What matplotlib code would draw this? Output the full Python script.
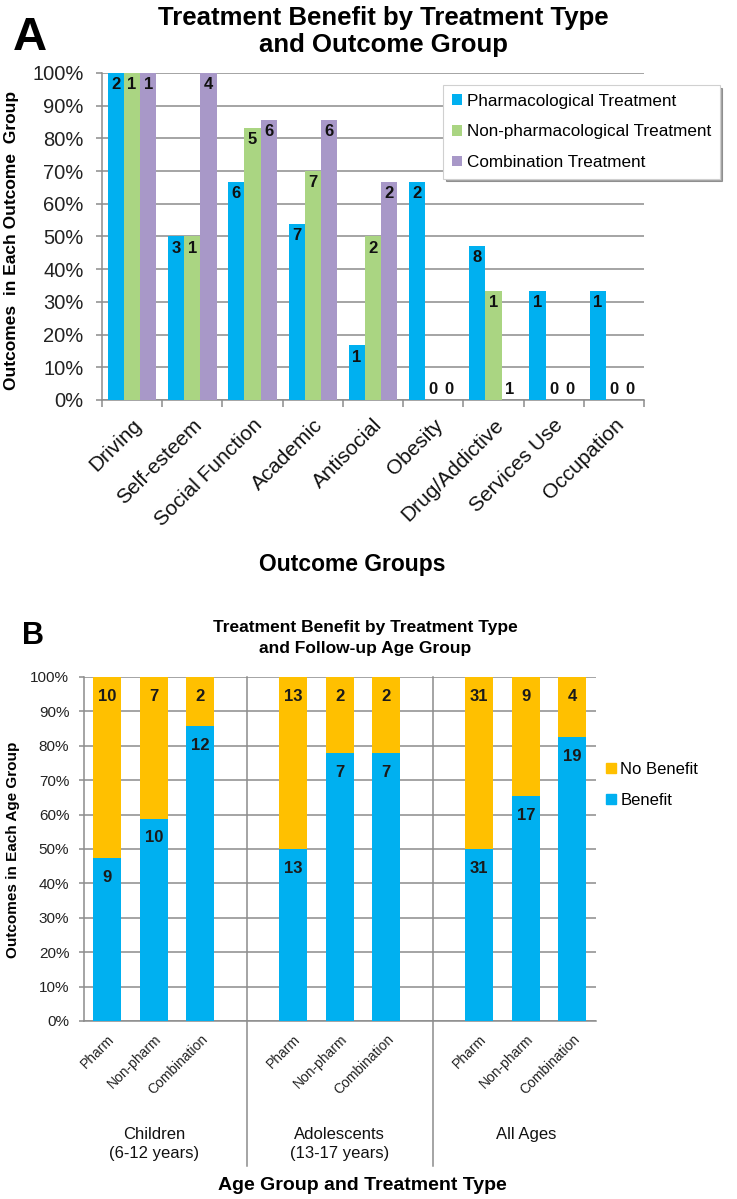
import matplotlib
matplotlib.use("Agg")
import matplotlib.pyplot as plt
import numpy as np
from matplotlib.patches import Patch
from matplotlib.lines import Line2D
import matplotlib.transforms as mtransforms

# ---------------- data ----------------
outcome_groups = ["Driving", "Self-esteem", "Social Function", "Academic", "Antisocial",
                  "Obesity", "Drug/Addictive", "Services Use", "Occupation"]
series_names = ["Pharmacological Treatment", "Non-pharmacological Treatment", "Combination Treatment"]
pharm_pct = [100, 50, 66.7, 53.8, 16.7, 66.7, 47.1, 33.3, 33.3]
nonpharm_pct = [100, 50, 83.3, 70, 50, 0, 33.3, 0, 0]
combo_pct = [100, 100, 85.7, 85.7, 66.7, 0, 0, 0, 0]
pharm_n = ["2", "3", "6", "7", "1", "2", "8", "1", "1"]
nonpharm_n = ["1", "1", "5", "7", "2", "0", "1", "0", "0"]
combo_n = ["1", "4", "6", "6", "2", "0", "1", "0", "0"]

age_groups = ["Children\n(6-12 years)", "Adolescents\n(13-17 years)", "All Ages"]
treat_types = ["Pharm", "Non-pharm", "Combination"]
benefit = [9, 10, 12, 13, 7, 7, 31, 17, 19]
no_benefit = [10, 7, 2, 13, 2, 2, 31, 9, 4]

pct_ticks = [0, 10, 20, 30, 40, 50, 60, 70, 80, 90, 100]
pct_labels = ["0%", "10%", "20%", "30%", "40%", "50%", "60%", "70%", "80%", "90%", "100%"]

# ---------------- style ----------------
W, H = 737, 1199
BLUE = "#00B0F0"
GREEN = "#AAD582"
PURPLE = "#A898C8"
ORANGE = "#FFC000"
GRID = "#8C8C8C"
SANS = ["Liberation Sans", "DejaVu Sans"]
plt.rcParams["font.family"] = SANS

fig = plt.figure(figsize=(W / 100, H / 100), dpi=100)
fig.patch.set_facecolor("white")


def fx(px):
    return px / W


def fy(py):
    return 1 - py / H


def axes_px(l, t, r, b):
    return fig.add_axes([fx(l), fy(b), fx(r) - fx(l), (b - t) / H])


# ================= Panel A =================
axA = axes_px(102, 73, 644, 400)
x = np.arange(len(outcome_groups))
bw = 0.268
colors = [BLUE, GREEN, PURPLE]
vals = [pharm_pct, nonpharm_pct, combo_pct]
labs = [pharm_n, nonpharm_n, combo_n]
for i in range(3):
    pos = x + (i - 1) * bw
    axA.bar(pos, vals[i], width=bw, color=colors[i], zorder=3, label=series_names[i])
    for xi, v, lab in zip(pos, vals[i], labs[i]):
        if v > 0:
            axA.annotate(lab, (xi, v), xytext=(0, -3), textcoords="offset points",
                         ha="center", va="top", fontsize=12, fontweight="bold",
                         color="#111111", zorder=4)
        else:
            axA.annotate(lab, (xi, 0), xytext=(0, 2), textcoords="offset points",
                         ha="center", va="bottom", fontsize=12, fontweight="bold",
                         color="#111111", zorder=4)

axA.set_xlim(-0.5, len(outcome_groups) - 0.5)
axA.set_ylim(0, 100)
axA.set_yticks(pct_ticks)
axA.set_yticklabels(pct_labels, fontsize=14.5, color="#222222")
axA.yaxis.grid(True, color=GRID, linewidth=1.1, zorder=0)
axA.set_axisbelow(True)
for s in ["top", "right"]:
    axA.spines[s].set_visible(False)
for s in ["left", "bottom"]:
    axA.spines[s].set_color(GRID)
    axA.spines[s].set_linewidth(1.1)
axA.tick_params(axis="y", length=4.3, color=GRID, width=1.1, pad=9)
axA.set_xticks(x)
axA.set_xticklabels(outcome_groups, rotation=45, ha="right", rotation_mode="anchor",
                    fontsize=15, color="#111111")
axA.tick_params(axis="x", which="major", length=0, pad=11)
axA.set_xticks(np.arange(-0.5, len(outcome_groups), 1.0), minor=True)
axA.tick_params(axis="x", which="minor", length=5, color=GRID, width=1.1)

legA = axA.legend(loc="upper left", bbox_to_anchor=(fx(443), fy(85)),
                  bbox_transform=fig.transFigure, borderaxespad=0, frameon=True,
                  fancybox=False, shadow=True, handlelength=0.6, handleheight=0.6,
                  handletextpad=0.3, labelspacing=0.92, borderpad=0.5,
                  prop={"family": SANS, "size": 12.3})
legA.get_frame().set_edgecolor("#D0D0D0")
legA.get_frame().set_linewidth(0.8)

fig.text(fx(383), fy(18), "Treatment Benefit by Treatment Type", ha="center", va="center",
         fontsize=18.5, fontweight="bold")
fig.text(fx(383), fy(45), "and Outcome Group", ha="center", va="center",
         fontsize=18.5, fontweight="bold")
fig.text(fx(13), fy(38), "A", ha="left", va="center", fontsize=34, fontweight="bold")
fig.text(fx(12), fy(240), "Outcomes  in Each Outcome  Group", rotation=90, ha="center",
         va="center", fontsize=12.5, fontweight="bold")
fig.text(fx(352), fy(564), "Outcome Groups", ha="center", va="center", fontsize=16.5,
         fontweight="bold")

# ================= Panel B =================
axB = axes_px(84, 677, 595.5, 1021)
bpos = [0, 1, 2, 4, 5, 6, 8, 9, 10]
tot = [b + n for b, n in zip(benefit, no_benefit)]
ben_pct = [100.0 * b / t for b, t in zip(benefit, tot)]
nob_pct = [100.0 * n / t for n, t in zip(no_benefit, tot)]
bw2 = 0.6
axB.bar(bpos, ben_pct, width=bw2, color=BLUE, zorder=3, label="Benefit")
axB.bar(bpos, nob_pct, bottom=ben_pct, width=bw2, color=ORANGE, zorder=3, label="No Benefit")
for xp, bp, bn, nn in zip(bpos, ben_pct, benefit, no_benefit):
    axB.annotate(str(bn), (xp, bp), xytext=(0, -8.5), textcoords="offset points",
                 ha="center", va="top", fontsize=12, fontweight="bold",
                 color="#1A1A1A", zorder=4)
    axB.annotate(str(nn), (xp, 100), xytext=(0, -8.5), textcoords="offset points",
                 ha="center", va="top", fontsize=12, fontweight="bold",
                 color="#1A1A1A", zorder=4)

axB.set_xlim(-0.5, 10.5)
axB.set_ylim(0, 100)
axB.set_yticks(pct_ticks)
axB.set_yticklabels(pct_labels, fontsize=11, color="#222222")
axB.yaxis.grid(True, color=GRID, linewidth=1.1, zorder=0)
axB.set_axisbelow(True)
for s in ["top", "right"]:
    axB.spines[s].set_visible(False)
for s in ["left", "bottom"]:
    axB.spines[s].set_color(GRID)
    axB.spines[s].set_linewidth(1.1)
axB.tick_params(axis="y", length=3.6, color=GRID, width=1.1, pad=7)
axB.set_xticks(bpos)
axB.set_xticklabels(treat_types * 3, rotation=45, ha="right", rotation_mode="anchor",
                    fontsize=10, color="#222222")
axB.tick_params(axis="x", length=0, pad=8)

trB = mtransforms.blended_transform_factory(axB.transData, axB.transAxes)
low = -(1166 - 1021) / 344.0
for sx in [3, 7]:
    axB.add_line(Line2D([sx, sx], [1, low], transform=trB, color=GRID, linewidth=1.1,
                        clip_on=False, zorder=1))
for gx, g in zip([1, 5, 9], age_groups):
    axB.text(gx, (1021 - 1127) / 344.0, g, transform=trB, ha="center", va="top",
             fontsize=12, color="#111111", linespacing=1.3)

legB = axB.legend(handles=[Patch(color=ORANGE, label="No Benefit"),
                           Patch(color=BLUE, label="Benefit")],
                  loc="upper left", bbox_to_anchor=(fx(606), fy(762)),
                  bbox_transform=fig.transFigure, borderaxespad=0, borderpad=0,
                  frameon=False, handlelength=0.6, handleheight=0.6, handletextpad=0.25,
                  labelspacing=0.95, prop={"family": SANS, "size": 12})

fig.text(fx(365), fy(628), "Treatment Benefit by Treatment Type", ha="center", va="center",
         fontsize=12.5, fontweight="bold")
fig.text(fx(365), fy(649), "and Follow-up Age Group", ha="center", va="center",
         fontsize=12.5, fontweight="bold")
fig.text(fx(22), fy(636), "B", ha="left", va="center", fontsize=22, fontweight="bold")
fig.text(fx(13), fy(850), "Outcomes in Each Age Group", rotation=90, ha="center",
         va="center", fontsize=11, fontweight="bold")
fig.text(fx(362), fy(1185), "Age Group and Treatment Type", ha="center", va="center",
         fontsize=14, fontweight="bold")

fig.savefig("out.png", dpi=100, facecolor="white")
